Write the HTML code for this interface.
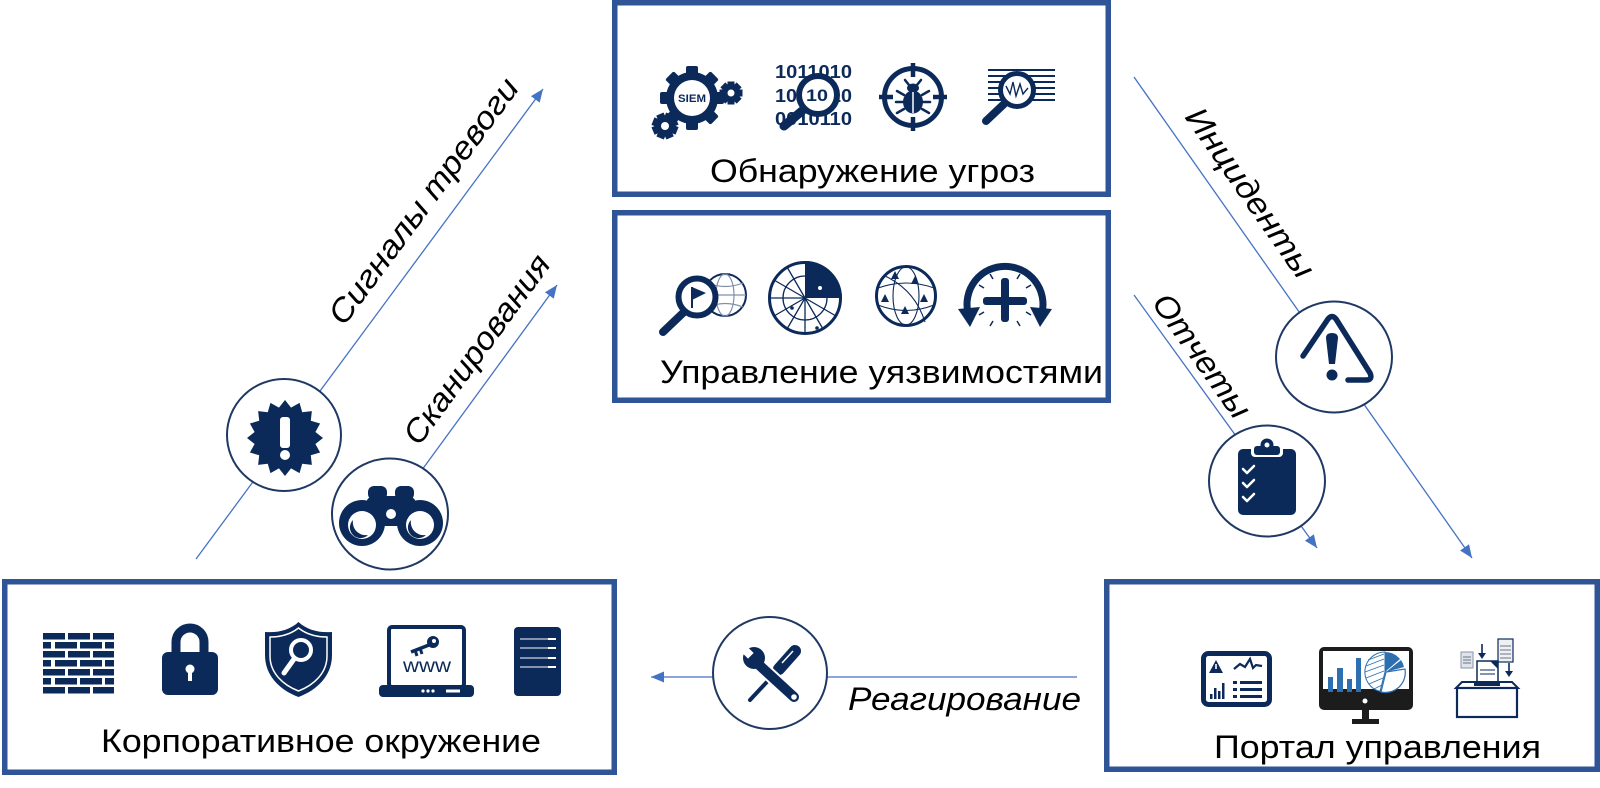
<!DOCTYPE html>
<html><head><meta charset="utf-8"><style>
html,body{margin:0;padding:0;background:#fff;}
svg{display:block;}
</style></head><body>
<svg width="1600" height="788" viewBox="0 0 1600 788" xmlns="http://www.w3.org/2000/svg">
<defs>
<marker id="ah" markerUnits="userSpaceOnUse" markerWidth="13" markerHeight="11" refX="13" refY="5.5" orient="auto"><path d="M0,0 L13,5.5 L0,11 z" fill="#4472c4"/></marker>
</defs>
<rect width="1600" height="788" fill="#fff"/>

<!-- arrows -->
<g stroke="#4472c4" stroke-width="1.3" fill="none">
<line x1="196" y1="559" x2="543" y2="89" marker-end="url(#ah)"/>
<line x1="400" y1="500" x2="557" y2="285" marker-end="url(#ah)"/>
<line x1="1134" y1="77" x2="1472" y2="558" marker-end="url(#ah)"/>
<line x1="1134" y1="295" x2="1317" y2="548" marker-end="url(#ah)"/>
<line x1="1077" y1="677" x2="651" y2="677" marker-end="url(#ah)"/>
</g>

<!-- boxes -->
<g fill="none" stroke="#2f5597" stroke-width="5.5">
<rect x="614.75" y="2.75" width="493.5" height="191.5"/>
<rect x="614.75" y="212.75" width="493.5" height="187.5"/>
<rect x="4.75" y="581.75" width="609.5" height="190.5"/>
<rect x="1106.75" y="581.75" width="490.5" height="187.5"/>
</g>

<!-- box labels -->
<g font-family="'Liberation Sans', Arial, sans-serif" font-size="32" fill="#000">
<text x="710" y="182" textLength="325" lengthAdjust="spacingAndGlyphs">Обнаружение угроз</text>
<text x="660" y="383" textLength="443" lengthAdjust="spacingAndGlyphs">Управление уязвимостями</text>
<text x="101" y="752" textLength="440" lengthAdjust="spacingAndGlyphs">Корпоративное окружение</text>
<text x="1214" y="758" textLength="327" lengthAdjust="spacingAndGlyphs">Портал управления</text>
</g>

<!-- arrow labels -->
<g font-family="'Liberation Sans', Arial, sans-serif" font-size="32" font-style="italic" fill="#000">
<text transform="translate(344,327) rotate(-53.6)" textLength="297" lengthAdjust="spacingAndGlyphs">Сигналы тревоги</text>
<text transform="translate(419,447) rotate(-54)" textLength="226" lengthAdjust="spacingAndGlyphs">Сканирования</text>
<text transform="translate(1184,117) rotate(55)" textLength="200" lengthAdjust="spacingAndGlyphs">Инциденты</text>
<text transform="translate(1151,303) rotate(54.5)" textLength="145" lengthAdjust="spacingAndGlyphs">Отчеты</text>
<text x="848" y="710" textLength="233" lengthAdjust="spacingAndGlyphs">Реагирование</text>
</g>

<!-- circles -->
<g fill="#fff" stroke="#1f3864" stroke-width="2">
<ellipse cx="284" cy="435" rx="57" ry="56"/>
<ellipse cx="390" cy="514" rx="58" ry="55.5"/>
<ellipse cx="1334" cy="357" rx="58" ry="55.5"/>
<ellipse cx="1267" cy="481" rx="58" ry="55.5"/>
<ellipse cx="770" cy="673" rx="57" ry="56"/>
</g>

<!-- circle icons -->
<g fill="#0b2a5a">
<!-- badge -->
<polygon points="323,438 315.4,444.05 320.11,452.54 310.78,455.22 311.87,464.87 302.22,463.78 299.54,473.11 291.05,468.4 285,476 278.95,468.4 270.46,473.11 267.78,463.78 258.13,464.87 259.22,455.22 249.89,452.54 254.6,444.05 247,438 254.6,431.95 249.89,423.46 259.22,420.78 258.13,411.13 267.78,412.22 270.46,402.89 278.95,407.6 285,400 291.05,407.6 299.54,402.89 302.22,412.22 311.87,411.13 310.78,420.78 320.11,423.46 315.4,431.95"/>
<rect x="280" y="417" width="10" height="31" rx="3" fill="#fff"/>
<circle cx="285" cy="455" r="5" fill="#fff"/>

<!-- binoculars -->
<circle cx="362" cy="523" r="23"/>
<circle cx="420" cy="523" r="23"/>
<rect x="366" y="496" width="50" height="30" rx="8"/>
<rect x="368" y="486" width="19" height="14" rx="6"/>
<rect x="395" y="486" width="19" height="14" rx="6"/>
<circle cx="391" cy="514" r="5" fill="#fff"/>
<circle cx="362" cy="525" r="14" fill="#fff"/>
<circle cx="420" cy="525" r="14" fill="#fff"/>
<path d="M353,520 A10,10 0 0 0 368,535 A13,13 0 0 1 353,520 Z"/>
<path d="M411,520 A10,10 0 0 0 426,535 A13,13 0 0 1 411,520 Z"/>

<!-- warning triangle -->
<path d="M1303,356 L1328,319 Q1332,314 1336,319 L1370,373 Q1373,380 1366,380 L1348,380" fill="none" stroke="#0b2a5a" stroke-width="5.5" stroke-linecap="round" stroke-linejoin="round"/>
<path d="M1326,338 Q1326,333 1332,333 Q1338,333 1338,338 L1335,364 L1329,364 Z"/>
<circle cx="1332" cy="375" r="5.5"/>

<!-- clipboard -->
<rect x="1238" y="449" width="58" height="66" rx="5"/>
<rect x="1251" y="444" width="32" height="13" rx="4" fill="#fff"/>
<rect x="1254" y="446" width="26" height="9" rx="3"/>
<circle cx="1267" cy="445" r="6.5"/>
<circle cx="1267" cy="445" r="2.5" fill="#fff"/>
<g fill="none" stroke="#fff" stroke-width="2.5" stroke-linecap="round" stroke-linejoin="round">
<polyline points="1243,469 1247,473 1254,466"/>
<polyline points="1243,483 1247,487 1254,480"/>
<polyline points="1243,497 1247,501 1254,494"/>
</g>

<!-- wrench & screwdriver -->
<line x1="778" y1="670" x2="750" y2="700" stroke="#0b2a5a" stroke-width="4" stroke-linecap="round"/>
<line x1="795" y1="651" x2="779" y2="669" stroke="#0b2a5a" stroke-width="12" stroke-linecap="round"/>
<line x1="793" y1="651" x2="782" y2="663" stroke="#fff" stroke-width="1.5"/>
<line x1="758" y1="664" x2="794" y2="697" stroke="#fff" stroke-width="14" stroke-linecap="round"/>
<line x1="758" y1="664" x2="794" y2="697" stroke="#0b2a5a" stroke-width="10" stroke-linecap="round"/>
<circle cx="754" cy="658" r="11"/>
<rect x="741" y="649" width="11" height="8" fill="#fff" transform="rotate(45 748 653)"/>
<circle cx="794" cy="697" r="2.8" fill="#fff"/>
</g>

<!-- TOP BOX ICONS -->
<g fill="#0b2a5a">
<!-- SIEM gear -->
<circle cx="692" cy="98" r="26"/>
<g>
<rect x="686" y="66" width="12" height="64" rx="2"/>
<rect x="686" y="66" width="12" height="64" rx="2" transform="rotate(45 692 98)"/>
<rect x="686" y="66" width="12" height="64" rx="2" transform="rotate(90 692 98)"/>
<rect x="686" y="66" width="12" height="64" rx="2" transform="rotate(135 692 98)"/>
</g>
<circle cx="692" cy="98" r="18" fill="#fff"/>
<text x="678" y="102" font-family="'Liberation Sans', Arial, sans-serif" font-weight="bold" font-size="11" textLength="28" lengthAdjust="spacingAndGlyphs" fill="#0b2a5a">SIEM</text>
<circle cx="731" cy="93" r="8"/>
<rect x="727.5" y="81.5" width="7" height="23" transform="rotate(0 731 93)"/>
<rect x="727.5" y="81.5" width="7" height="23" transform="rotate(45 731 93)"/>
<rect x="727.5" y="81.5" width="7" height="23" transform="rotate(90 731 93)"/>
<rect x="727.5" y="81.5" width="7" height="23" transform="rotate(135 731 93)"/>
<circle cx="731" cy="93" r="3.5" fill="#fff"/>
<circle cx="665" cy="126" r="9.5"/>
<rect x="661" y="113" width="8" height="26" transform="rotate(22 665 126)"/>
<rect x="661" y="113" width="8" height="26" transform="rotate(67 665 126)"/>
<rect x="661" y="113" width="8" height="26" transform="rotate(112 665 126)"/>
<rect x="661" y="113" width="8" height="26" transform="rotate(157 665 126)"/>
<circle cx="665" cy="126" r="4" fill="#fff"/>

<!-- binary magnifier -->
<g font-family="'Liberation Sans', Arial, sans-serif" font-weight="bold" font-size="18" fill="#0b2a5a">
<text x="775" y="78" textLength="77" lengthAdjust="spacingAndGlyphs">1011010</text>
<text x="775" y="102" textLength="77" lengthAdjust="spacingAndGlyphs">1001010</text>
<text x="775" y="125" textLength="77" lengthAdjust="spacingAndGlyphs">0010110</text>
</g>
<circle cx="818" cy="95" r="19" fill="#fff" stroke="#0b2a5a" stroke-width="6"/>
<text x="806" y="101" font-family="'Liberation Sans', Arial, sans-serif" font-weight="bold" font-size="17" textLength="22" lengthAdjust="spacingAndGlyphs">10</text>
<line x1="802" y1="111" x2="784" y2="126" stroke="#0b2a5a" stroke-width="9" stroke-linecap="round"/>

<!-- bug target -->
<circle cx="913" cy="97" r="28.5" fill="none" stroke="#0b2a5a" stroke-width="5"/>
<g stroke="#0b2a5a" stroke-width="4.5">
<line x1="913" y1="63" x2="913" y2="77"/>
<line x1="913" y1="117" x2="913" y2="131"/>
<line x1="879" y1="97" x2="893" y2="97"/>
<line x1="933" y1="97" x2="947" y2="97"/>
</g>
<ellipse cx="913" cy="102" rx="10" ry="11.5"/>
<ellipse cx="913" cy="88" rx="6" ry="4.5"/>
<line x1="913" y1="92" x2="913" y2="113" stroke="#fff" stroke-width="1.5"/>
<g stroke="#0b2a5a" stroke-width="2.5" stroke-linecap="round">
<line x1="904" y1="95" x2="897" y2="91"/><line x1="922" y1="95" x2="929" y2="91"/>
<line x1="903" y1="102" x2="896" y2="102"/><line x1="923" y1="102" x2="930" y2="102"/>
<line x1="904" y1="109" x2="897" y2="113"/><line x1="922" y1="109" x2="929" y2="113"/>
<line x1="909" y1="85" x2="905" y2="80"/><line x1="917" y1="85" x2="921" y2="80"/>
</g>

<!-- magnifier with lines -->
<g stroke="#0b2a5a" stroke-width="2">
<line x1="988" y1="70" x2="1055" y2="70"/>
<line x1="988" y1="76" x2="1055" y2="76"/>
<line x1="988" y1="82" x2="1055" y2="82"/>
<line x1="988" y1="88" x2="1055" y2="88"/>
<line x1="988" y1="94" x2="1055" y2="94"/>
<line x1="988" y1="100" x2="1055" y2="100"/>
</g>
<circle cx="1017" cy="90" r="16.5" fill="#fff" stroke="#0b2a5a" stroke-width="5"/>
<polyline points="1006,86 1010,94 1013,82 1016,96 1020,84 1023,94 1028,88" fill="none" stroke="#0b2a5a" stroke-width="1.4"/>
<line x1="1004" y1="104" x2="986" y2="121" stroke="#0b2a5a" stroke-width="8" stroke-linecap="round"/>
</g>

<!-- MIDDLE BOX ICONS -->
<g>
<!-- globe + magnifier flag -->
<circle cx="725" cy="295" r="21" fill="#fff" stroke="#0b2a5a" stroke-width="2"/>
<g fill="none" stroke="#8090aa" stroke-width="1.2">
<ellipse cx="725" cy="295" rx="9" ry="21"/>
<line x1="704" y1="295" x2="746" y2="295"/>
<path d="M708,283 Q725,290 743,283"/>
<path d="M708,307 Q725,300 743,307"/>
</g>
<circle cx="697" cy="297" r="18.5" fill="#fff" stroke="#0b2a5a" stroke-width="6"/>
<line x1="684" y1="312" x2="663" y2="332" stroke="#0b2a5a" stroke-width="8" stroke-linecap="round"/>
<line x1="692" y1="287" x2="692" y2="308" stroke="#0b2a5a" stroke-width="2"/>
<polygon points="692,287 706,293 692,300" fill="#0b2a5a"/>

<!-- radar -->
<circle cx="805" cy="298" r="35.5" fill="#fff" stroke="#0b2a5a" stroke-width="3"/>
<g stroke="#0b2a5a" stroke-width="1.3" fill="none">
<circle cx="805" cy="298" r="22"/>
<line x1="805" y1="298" x2="770" y2="298"/>
<line x1="805" y1="298" x2="805" y2="334"/>
<line x1="805" y1="298" x2="774" y2="280"/>
<line x1="805" y1="298" x2="787" y2="267"/>
<line x1="805" y1="298" x2="774" y2="316"/>
<line x1="805" y1="298" x2="787" y2="329"/>
<line x1="805" y1="298" x2="823" y2="329"/>
<line x1="805" y1="298" x2="836" y2="316"/>
</g>
<path d="M805,298 L805,261 A37,37 0 0 1 842,298 Z" fill="#0b2a5a"/>
<circle cx="820" cy="288" r="2" fill="#fff"/>
<circle cx="792" cy="308" r="1.8" fill="#0b2a5a"/>
<circle cx="817" cy="328" r="1.8" fill="#0b2a5a"/>

<!-- globe warnings -->
<circle cx="906" cy="296" r="29.5" fill="#fff" stroke="#0b2a5a" stroke-width="3"/>
<g fill="none" stroke="#0b2a5a" stroke-width="1.1">
<ellipse cx="906" cy="296" rx="13" ry="29"/>
<path d="M878,288 Q906,278 934,288"/>
<path d="M878,305 Q906,316 934,305"/>
<path d="M885,276 Q915,290 925,322"/>
</g>
<g fill="#0b2a5a">
<polygon points="895,271 891,279 899,279"/>
<polygon points="915,276 911,284 919,284"/>
<polygon points="885,294 881,302 889,302"/>
<polygon points="924,294 920,302 928,302"/>
<polygon points="905,306 901,314 909,314"/>
</g>

<!-- circular arrow with plus -->
<path d="M968,313 A38,38 0 1 1 1042,313" fill="none" stroke="#0b2a5a" stroke-width="7"/>
<polygon points="958,309 980,307 970,327" fill="#0b2a5a"/>
<polygon points="1030,307 1052,309 1040,327" fill="#0b2a5a"/>
<g stroke="#0b2a5a" stroke-width="1.5">
<line x1="1017" y1="279" x2="1020" y2="274"/>
<line x1="1026" y1="288" x2="1031" y2="285"/>
<line x1="1026" y1="312" x2="1031" y2="315"/>
<line x1="1017" y1="321" x2="1020" y2="326"/>
<line x1="993" y1="321" x2="990" y2="326"/>
<line x1="984" y1="312" x2="979" y2="315"/>
<line x1="984" y1="288" x2="979" y2="285"/>
<line x1="993" y1="279" x2="990" y2="274"/>
</g>
<rect x="983" y="297" width="44" height="8" rx="3" fill="#0b2a5a"/>
<rect x="1001" y="278" width="8" height="44" rx="3" fill="#0b2a5a"/>
</g>

<!-- LEFT BOX ICONS -->
<g fill="#0b2a5a">
<!-- brick wall -->
<rect x="43" y="633" width="22" height="6.5"/><rect x="68" y="633" width="22" height="6.5"/><rect x="93" y="633" width="21" height="6.5"/>
<rect x="43" y="642" width="8" height="6.5"/><rect x="55" y="642" width="22" height="6.5"/><rect x="80" y="642" width="22" height="6.5"/><rect x="105" y="642" width="9" height="6.5"/>
<rect x="43" y="651" width="22" height="6.5"/><rect x="68" y="651" width="22" height="6.5"/><rect x="93" y="651" width="21" height="6.5"/>
<rect x="43" y="660" width="8" height="6.5"/><rect x="55" y="660" width="22" height="6.5"/><rect x="80" y="660" width="22" height="6.5"/><rect x="105" y="660" width="9" height="6.5"/>
<rect x="43" y="669" width="22" height="6.5"/><rect x="68" y="669" width="22" height="6.5"/><rect x="93" y="669" width="21" height="6.5"/>
<rect x="43" y="678" width="8" height="6.5"/><rect x="55" y="678" width="22" height="6.5"/><rect x="80" y="678" width="22" height="6.5"/><rect x="105" y="678" width="9" height="6.5"/>
<rect x="43" y="687" width="22" height="6.5"/><rect x="68" y="687" width="22" height="6.5"/><rect x="93" y="687" width="21" height="6.5"/>

<!-- lock -->
<path d="M176,656 V642 A14,14 0 0 1 204,642 V656" fill="none" stroke="#0b2a5a" stroke-width="9"/>
<rect x="162" y="652" width="56" height="43" rx="6"/>
<circle cx="190" cy="669" r="4.5" fill="#fff"/>
<rect x="188" y="669" width="4" height="12" fill="#fff"/>

<!-- shield -->
<path d="M298.5,622 C290,630 278,633 265,632 L265,655 C265,676 280,690 298.5,697 C317,690 332,676 332,655 L332,632 C319,633 307,630 298.5,622 Z"/>
<path d="M298.5,628 C291,634 281,637 270,637 L270,656 C270,673 283,685 298.5,691 C314,685 327,673 327,656 L327,637 C316,637 306,634 298.5,628 Z" fill="none" stroke="#fff" stroke-width="1.5"/>
<circle cx="301" cy="650" r="10" fill="#0b2a5a" stroke="#fff" stroke-width="4"/>
<line x1="294" y1="659" x2="284" y2="673" stroke="#fff" stroke-width="5" stroke-linecap="round"/>

<!-- laptop -->
<rect x="389" y="627" width="75" height="60" rx="3" fill="#fff" stroke="#0b2a5a" stroke-width="4"/>
<rect x="379" y="685" width="95" height="12" rx="4"/>
<circle cx="423" cy="691" r="1.6" fill="#fff"/><circle cx="428" cy="691" r="1.6" fill="#fff"/><circle cx="433" cy="691" r="1.6" fill="#fff"/>
<rect x="446" y="689.5" width="14" height="3" fill="#fff"/>
<circle cx="433" cy="642" r="6"/>
<circle cx="434" cy="641" r="2" fill="#fff"/>
<line x1="429" y1="645" x2="411" y2="652" stroke="#0b2a5a" stroke-width="3.5"/>
<line x1="415" y1="650" x2="417" y2="656" stroke="#0b2a5a" stroke-width="3"/>
<line x1="420" y1="648" x2="422" y2="654" stroke="#0b2a5a" stroke-width="3"/>
<text x="403" y="672" font-family="'Liberation Sans', Arial, sans-serif" font-size="19" textLength="48" lengthAdjust="spacingAndGlyphs">www</text>

<!-- server -->
<rect x="514" y="627" width="47" height="69" rx="4"/>
<g stroke="#fff">
<line x1="520" y1="639" x2="556" y2="639" stroke-width="1"/><line x1="548" y1="639" x2="556" y2="639" stroke-width="2"/>
<line x1="520" y1="648" x2="556" y2="648" stroke-width="1"/><line x1="548" y1="648" x2="556" y2="648" stroke-width="2"/>
<line x1="520" y1="658" x2="556" y2="658" stroke-width="1"/><line x1="548" y1="658" x2="556" y2="658" stroke-width="2"/>
<line x1="520" y1="667" x2="556" y2="667" stroke-width="1"/><line x1="548" y1="667" x2="556" y2="667" stroke-width="2"/>
</g>
</g>

<!-- RIGHT BOX ICONS -->
<g>
<!-- dashboard -->
<rect x="1203.5" y="653.5" width="66" height="51" rx="5" fill="#fff" stroke="#0b2a5a" stroke-width="5"/>
<polygon points="1216,660 1209,673 1223,673" fill="#0b2a5a"/>
<rect x="1215.2" y="664" width="1.6" height="5" fill="#fff"/>
<polyline points="1234,669 1240,664 1245,667 1250,659 1253,668 1256,665 1262,666" fill="none" stroke="#0b2a5a" stroke-width="2.2"/>
<g fill="#0b2a5a">
<rect x="1210" y="694" width="2.5" height="5"/><rect x="1214" y="688" width="2.5" height="11"/><rect x="1218" y="691" width="2.5" height="8"/><rect x="1222" y="683" width="2.5" height="16"/>
<rect x="1233" y="681" width="4" height="3"/><rect x="1240" y="681" width="22" height="3"/>
<rect x="1233" y="688" width="4" height="3"/><rect x="1240" y="688" width="22" height="3"/>
<rect x="1233" y="695" width="4" height="3"/><rect x="1240" y="695" width="22" height="3"/>
</g>

<!-- monitor -->
<rect x="1319" y="647" width="94" height="63" rx="5" fill="#1c1c1c"/>
<rect x="1323" y="651" width="86" height="38" fill="#fff"/>
<circle cx="1365" cy="701" r="2.5" fill="#fff"/>
<rect x="1362" y="710" width="7" height="11" fill="#1c1c1c"/>
<rect x="1352" y="719" width="27" height="5" fill="#1c1c1c"/>
<g fill="#2e6fb0">
<rect x="1328" y="677" width="5" height="15"/>
<rect x="1337" y="668" width="6" height="24"/>
<rect x="1347" y="679" width="5" height="13"/>
<rect x="1356" y="658" width="5" height="34"/>
</g>
<path d="M1385,672 L1385,652 A20,20 0 0 0 1380,691.4 Z" fill="#fff" stroke="#2e6fb0" stroke-width="1"/>
<g stroke="#2e6fb0" stroke-width="0.9">
<line x1="1368" y1="660" x2="1384" y2="654"/><line x1="1366" y1="666" x2="1384" y2="659"/>
<line x1="1365" y1="672" x2="1384" y2="665"/><line x1="1366" y1="678" x2="1384" y2="671"/>
<line x1="1369" y1="684" x2="1383" y2="678"/><line x1="1374" y1="689" x2="1382" y2="685"/>
</g>
<path d="M1385,672 L1385,652 A20,20 0 0 1 1400,659 Z" fill="#2e6fb0"/>
<path d="M1386,672 L1401,660 A20,20 0 0 1 1404,667 Z" fill="#2e6fb0"/>
<path d="M1386,672 L1405,669 A20,20 0 0 1 1381,692 Z" fill="#fff" stroke="#2e6fb0" stroke-width="1.2"/>

<!-- ballot box -->
<rect x="1461" y="652" width="12" height="16" fill="#dfe3ea" stroke="#8a94a6" stroke-width="1"/>
<g stroke="#6a7488" stroke-width="1"><line x1="1463" y1="657" x2="1471" y2="657"/><line x1="1463" y1="660" x2="1471" y2="660"/><line x1="1463" y1="663" x2="1471" y2="663"/></g>
<rect x="1498" y="639" width="15" height="23" fill="#eef0f4" stroke="#0b2a5a" stroke-width="1.2"/>
<g stroke="#6a7488" stroke-width="1"><line x1="1500" y1="646" x2="1511" y2="646"/><line x1="1500" y1="650" x2="1511" y2="650"/><line x1="1500" y1="654" x2="1511" y2="654"/><line x1="1500" y1="658" x2="1511" y2="658"/></g>
<line x1="1482" y1="644" x2="1482" y2="655" stroke="#0b2a5a" stroke-width="1.6"/>
<polygon points="1478,653 1486,653 1482,659" fill="#0b2a5a"/>
<line x1="1509" y1="663" x2="1509" y2="673" stroke="#0b2a5a" stroke-width="1.6"/>
<polygon points="1505,671 1513,671 1509,677" fill="#0b2a5a"/>
<rect x="1477" y="661" width="21" height="21" fill="#fff" stroke="#0b2a5a" stroke-width="1.5"/>
<polygon points="1490,661 1498,661 1498,669" fill="#0b2a5a"/>
<g stroke="#0b2a5a" stroke-width="1"><line x1="1480" y1="670" x2="1495" y2="670"/><line x1="1480" y1="674" x2="1495" y2="674"/></g>
<path d="M1456,688 L1462,682 L1512,682 L1518,688 Z" fill="#fff" stroke="#0b2a5a" stroke-width="2"/>
<rect x="1474" y="683" width="26" height="3" fill="#0b2a5a"/>
<rect x="1457" y="688" width="60" height="29" fill="#fff" stroke="#0b2a5a" stroke-width="2.2"/>
</g>
</svg>
</body></html>
